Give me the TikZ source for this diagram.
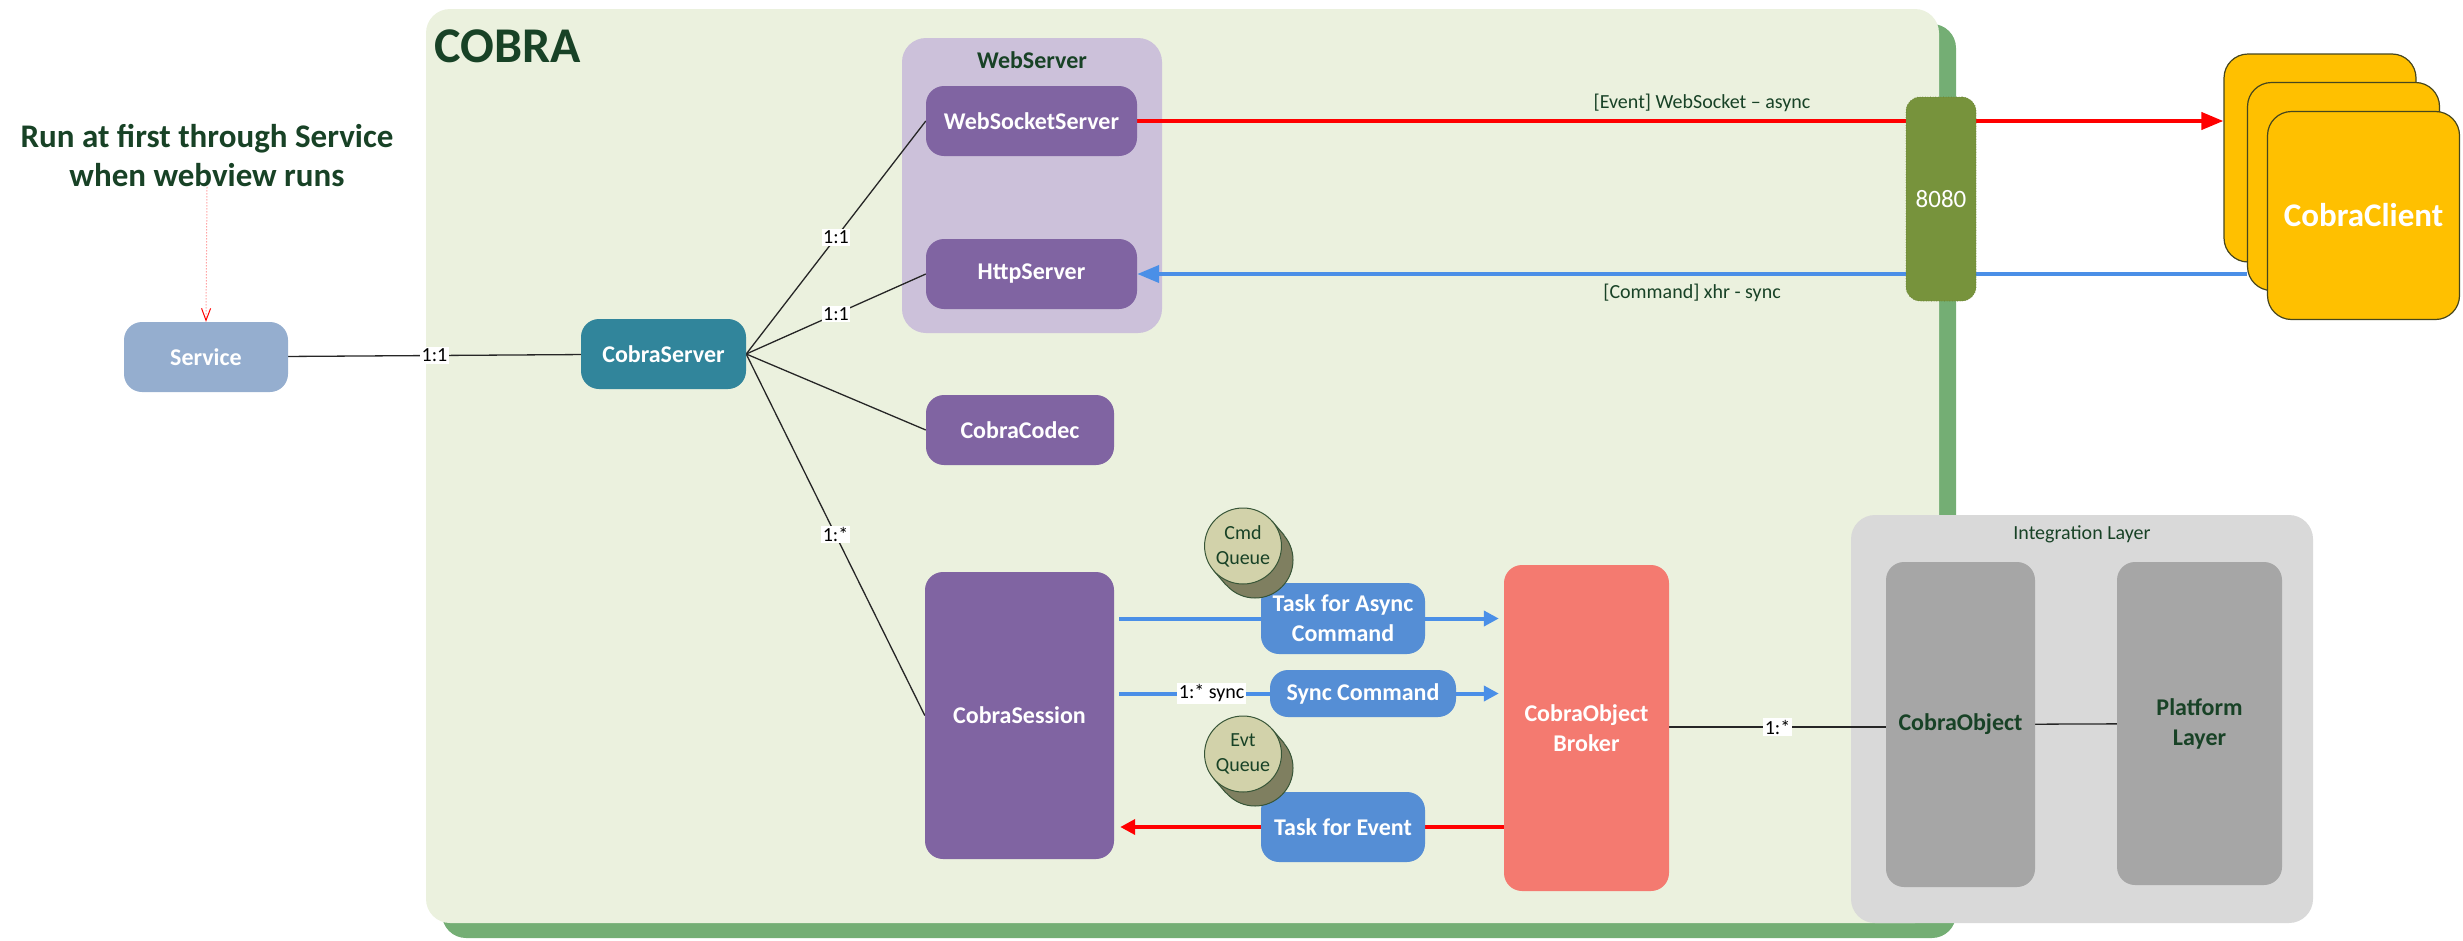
\documentclass[tikz,border=0pt]{standalone}
\usepackage{fontspec}
\setmainfont{Carlito}
\usetikzlibrary{calc}
\usetikzlibrary{shapes}
\usetikzlibrary{arrows.meta}
\definecolor[named]{CobraPanel}{RGB}{235,241,222}
\definecolor[named]{CobraShadow}{RGB}{116,174,116}
\definecolor[named]{CobraText}{RGB}{24,66,38}
\definecolor[named]{ServiceBlue}{RGB}{149,174,207}
\definecolor[named]{ServerTeal}{RGB}{49,133,155}
\definecolor[named]{WebLilac}{RGB}{204,193,218}
\definecolor[named]{BoxPurple}{RGB}{128,100,162}
\definecolor[named]{TaskBlue}{RGB}{85,142,213}
\definecolor[named]{CmdBlue}{RGB}{74,143,231}
\definecolor[named]{EvtRed}{RGB}{255,0,0}
\definecolor[named]{BrokerRed}{RGB}{244,122,112}
\definecolor[named]{LayerGray}{RGB}{217,217,217}
\definecolor[named]{ObjGray}{RGB}{166,166,166}
\definecolor[named]{PortGreen}{RGB}{119,147,60}
\definecolor[named]{ClientYellow}{RGB}{255,192,0}
\definecolor[named]{ClientEdge}{RGB}{70,70,30}
\definecolor[named]{QueueFront}{RGB}{210,210,170}
\definecolor[named]{QueueBack}{RGB}{127,127,96}
\definecolor[named]{QueueEdge}{RGB}{55,85,55}
\pgfdeclarelayer{panel}
\pgfdeclarelayer{lines}
\pgfsetlayers{panel,lines,main}
\newcommand{\boxfont}{\fontsize{24}{30}\selectfont\bfseries}
\newcommand{\tagfont}{\fontsize{20}{25}\selectfont}
\tikzset{
  comp/.style={rectangle,rounded corners=18pt,inner sep=0pt,align=center,
    text=white,font=\boxfont},
  group/.style={rectangle,rounded corners=24pt,inner sep=0pt},
  card/.style={fill=white,inner sep=1.5pt,text=black,font=\tagfont},
  note/.style={inner sep=0pt,text=CobraText,font=\tagfont},
  link/.style={draw=black!85,line width=1.3pt},
  evtline/.style={draw=EvtRed,line width=4pt},
  cmdline/.style={draw=CmdBlue,line width=4pt},
  bigtip/.style={-{Triangle[length=22pt,width=17pt]}},
  smalltip/.style={-{Triangle[length=15pt,width=15pt]}},
  port/.style={rectangle,rounded corners=14pt,inner sep=0pt,fill=PortGreen,
    draw=PortGreen!85!black,dotted,line width=0.6pt,text=white,
    font=\fontsize{25}{30}\selectfont},
  client/.style={rectangle,rounded corners=24pt,inner sep=0pt,fill=ClientYellow,
    draw=ClientEdge,line width=1.2pt,minimum width=192pt,minimum height=208pt},
  queuebox/.style={ellipse,inner sep=0pt,minimum width=76pt,minimum height=76pt,
    fill=QueueFront,draw=QueueEdge,line width=1pt,align=center,text=CobraText,
    font=\fontsize{20}{25}\selectfont},
}
\newcommand{\queue}[3]{%
  \filldraw[fill=QueueBack,draw=QueueEdge,line width=1pt]
    ($#1+(12,14)$) ellipse [x radius=38pt,y radius=38pt];
  \fill[QueueBack] ($#1+(-29,25)$) -- ($#1+(29,-25)$) -- ($#1+(41,-11)$)
    -- ($#1+(-17,39)$) -- cycle;
  \draw[QueueEdge,line width=1pt] ($#1+(-29,25)$) -- ($#1+(-17,39)$)
    ($#1+(29,-25)$) -- ($#1+(41,-11)$);
  \node[queuebox] (#2) at #1 {#3};
}

\begin{document}
\begin{tikzpicture}[x=1pt,y=-1pt]
  \useasboundingbox (0,0) rectangle (2463,940);

  % COBRA frame and the two groups
  \begin{pgfonlayer}{panel}
    \fill[CobraShadow,rounded corners=24pt] (442,24) rectangle (1956,938);
    \fill[CobraPanel,rounded corners=24pt] (426,9) rectangle (1939,923);
    \node[group,fill=WebLilac,minimum width=260pt,minimum height=295pt]
      (webgroup) at (1032,185.5) {};
    \node[group,fill=LayerGray,minimum width=462pt,minimum height=408pt]
      (intlayer) at (2082,719) {};
  \end{pgfonlayer}
  \node[anchor=base west,inner sep=0pt,text=CobraText,
    font=\fontsize{50}{60}\selectfont\bfseries] (cobratitle) at (434,62) {COBRA};
  \node[inner sep=0pt,text=CobraText,font=\boxfont] (webtitle) at (1032,60) {WebServer};
  \node[note] (inttitle) at (2082,534) {Integration Layer};

  \node[inner sep=0pt,align=center,text=CobraText,
    font=\fontsize{33}{39}\selectfont\bfseries] (runnote) at (207,156)
    {Run at first through Service\\when webview runs};

  \node[comp,fill=ServiceBlue,minimum width=164pt,minimum height=70pt]
    (service) at (206,357) {Service};
  \node[comp,fill=ServerTeal,minimum width=165pt,minimum height=70pt]
    (cobraserver) at (663.5,354) {CobraServer};
  \node[comp,fill=BoxPurple,minimum width=211pt,minimum height=70pt]
    (websocket) at (1031.5,121) {WebSocketServer};
  \node[comp,fill=BoxPurple,minimum width=211pt,minimum height=70pt]
    (http) at (1031.5,274) {HttpServer};
  \node[comp,fill=BoxPurple,minimum width=188pt,minimum height=70pt]
    (codec) at (1020,430) {CobraCodec};
  \node[comp,fill=BoxPurple,minimum width=189pt,minimum height=287pt]
    (session) at (1019.5,715.5) {CobraSession};
  \node[comp,fill=TaskBlue,minimum width=164pt,minimum height=71pt]
    (taskasync) at (1343,618.5) {Task for Async\\Command};
  \node[comp,fill=TaskBlue,minimum width=186pt,minimum height=47pt]
    (synccmd) at (1363,693.5) {Sync Command};
  \node[comp,fill=TaskBlue,minimum width=164pt,minimum height=70pt]
    (taskevent) at (1343,827) {Task for Event};
  \node[comp,fill=BrokerRed,minimum width=165pt,minimum height=326pt]
    (broker) at (1586.5,728) {CobraObject\\Broker};
  \node[comp,fill=ObjGray,text=CobraText,minimum width=149pt,minimum height=325pt]
    (cobraobject) at (1960.5,724.5) {CobraObject};
  \node[comp,fill=ObjGray,text=CobraText,minimum width=165pt,minimum height=323pt]
    (platform) at (2199.5,723.5) {Platform\\Layer};

  \queue{(1243,546)}{cmdqueue}{Cmd\\Queue}
  \queue{(1243,754)}{evtqueue}{Evt\\Queue}

  \node[port,minimum width=70pt,minimum height=204pt] (port) at (1941,199) {8080};

  \node[client] (client1) at (2320,158) {};
  \node[client] (client2) at (2343.5,186.5) {};
  \node[client,font=\fontsize{33}{40}\selectfont\bfseries,text=white]
    (client3) at (2363.5,215.5) {CobraClient};

  % connectors
  \begin{pgfonlayer}{lines}
    \draw[dotted,red!55,line width=1pt,-{Straight Barb[length=12pt,width=9pt,red]}]
      (runnote.south) -- (service.north);
    \draw[link] (service) -- node[card] {1:1} (cobraserver);
    \draw[link] (cobraserver.east) -- node[card] {1:1} (websocket.west);
    \draw[link] (cobraserver.east) -- node[card] {1:1} (http.west);
    \draw[link] (cobraserver.east) -- (codec.west);
    \draw[link] (cobraserver.east) -- node[card] {1:*} (session.west);

    \draw[evtline,bigtip] (websocket.east) --
      node[note,pos=0.52,yshift=18pt] {[Event] WebSocket – async}
      (websocket.east -| client1.west);
    \draw[cmdline,bigtip] (client2.west |- http) --
      node[note,pos=0.5,yshift=-19pt] {[Command] xhr - sync} (http.east);

    \draw[cmdline,smalltip,shorten <=5pt,shorten >=5pt]
      (session.east |- taskasync) -- (broker.west |- taskasync);
    \draw[cmdline,smalltip,shorten <=5pt,shorten >=5pt]
      (session.east |- synccmd) -- node[card,pos=0.25] {1:* sync}
      (broker.west |- synccmd);
    \draw[evtline,smalltip,shorten >=6pt]
      (broker.west |- taskevent) -- (session.east |- taskevent);

    \draw[link] (broker.east |- 0,727) -- node[card] {1:*} (cobraobject.west |- 0,727);
    \draw[link] (cobraobject) -- (platform);
  \end{pgfonlayer}
\end{tikzpicture}
\end{document}
